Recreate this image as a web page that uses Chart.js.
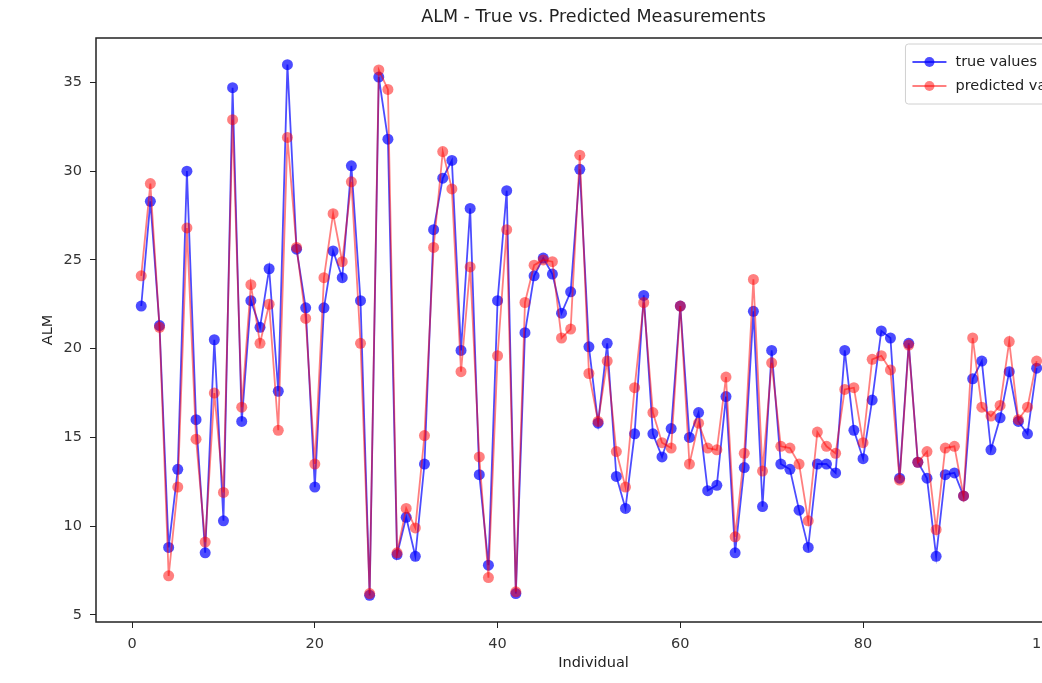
<!DOCTYPE html>
<html>
<head>
<meta charset="utf-8">
<title>ALM - True vs. Predicted Measurements</title>
<script src="https://cdn.jsdelivr.net/npm/chart.js@4.4.1/dist/chart.umd.min.js"></script>
<style>
    html, body { margin: 0; padding: 0; background: #fff; overflow: hidden; }
    #wrap { width: 1042px; height: 683px; overflow: hidden; }
</style>
</head>
<body>
<div id="wrap">
    <canvas id="ALM_Chart" width="1110" height="683"></canvas>
</div>
<script>
// ค่าที่อ่านจากภาพ (individual 1..99)
const trueValues = [
    22.4, 28.3, 21.3, 8.8, 13.2, 30.0, 16.0, 8.5, 20.5, 10.3,
    34.7, 15.9, 22.7, 21.2, 24.5, 17.6, 36.0, 25.6, 22.3, 12.2,
    22.3, 25.5, 24.0, 30.3, 22.7, 6.1, 35.3, 31.8, 8.4, 10.5,
    8.3, 13.5, 26.7, 29.6, 30.6, 19.9, 27.9, 12.9, 7.8, 22.7,
    28.9, 6.2, 20.9, 24.1, 25.1, 24.2, 22.0, 23.2, 30.1, 20.1,
    15.8, 20.3, 12.8, 11.0, 15.2, 23.0, 15.2, 13.9, 15.5, 22.4,
    15.0, 16.4, 12.0, 12.3, 17.3, 8.5, 13.3, 22.1, 11.1, 19.9,
    13.5, 13.2, 10.9, 8.8, 13.5, 13.5, 13.0, 19.9, 15.4, 13.8,
    17.1, 21.0, 20.6, 12.7, 20.3, 13.6, 12.7, 8.3, 12.9, 13.0,
    11.7, 18.3, 19.3, 14.3, 16.1, 18.7, 15.9, 15.2, 18.9
];
const predictedValues = [
    24.1, 29.3, 21.2, 7.2, 12.2, 26.8, 14.9, 9.1, 17.5, 11.9,
    32.9, 16.7, 23.6, 20.3, 22.5, 15.4, 31.9, 25.7, 21.7, 13.5,
    24.0, 27.6, 24.9, 29.4, 20.3, 6.2, 35.7, 34.6, 8.5, 11.0,
    9.9, 15.1, 25.7, 31.1, 29.0, 18.7, 24.6, 13.9, 7.1, 19.6,
    26.7, 6.3, 22.6, 24.7, 25.0, 24.9, 20.6, 21.1, 30.9, 18.6,
    15.9, 19.3, 14.2, 12.2, 17.8, 22.6, 16.4, 14.7, 14.4, 22.4,
    13.5, 15.8, 14.4, 14.3, 18.4, 9.4, 14.1, 23.9, 13.1, 19.2,
    14.5, 14.4, 13.5, 10.3, 15.3, 14.5, 14.1, 17.7, 17.8, 14.7,
    19.4, 19.6, 18.8, 12.6, 20.2, 13.6, 14.2, 9.8, 14.4, 14.5,
    11.7, 20.6, 16.7, 16.2, 16.8, 20.4, 16.0, 16.7, 19.3
];
const individuals = trueValues.map((v, i) => i + 1);
const xTicks = [0, 20, 40, 60, 80, 100];
const yTicks = [5, 10, 15, 20, 25, 30, 35];

const blueLine = 'rgba(0, 0, 255, 0.7)';
const redLine = 'rgba(255, 0, 0, 0.5)';
const fontFamily = '"DejaVu Sans", sans-serif';

// กรอบรอบพื้นที่กราฟ + legend ด้านในมุมขวาบน แบบ matplotlib
const framePlugin = {
    id: 'frameAndLegend',
    afterDraw(chart) {
        const ctx = chart.ctx;
        const a = chart.chartArea;
        ctx.save();
        ctx.strokeStyle = '#222';
        ctx.lineWidth = 1.5;
        ctx.strokeRect(a.left, a.top, a.right - a.left, a.bottom - a.top);

        const items = [
            { text: 'true values', color: blueLine },
            { text: 'predicted values', color: redLine }
        ];
        ctx.font = '14.5px ' + fontFamily;
        let textW = 0;
        items.forEach(it => { textW = Math.max(textW, ctx.measureText(it.text).width); });
        const pad = 7, handle = 34, gap = 9, rowH = 24;
        const boxW = pad + handle + gap + textW + pad;
        const boxH = 8 + rowH * items.length + 4;
        const right = a.right - 8;
        const left = right - boxW;
        const top = a.top + 6;

        ctx.fillStyle = 'rgba(255,255,255,0.8)';
        ctx.strokeStyle = '#d0d0d0';
        ctx.lineWidth = 1;
        ctx.beginPath();
        ctx.roundRect(left, top, boxW, boxH, 3);
        ctx.fill();
        ctx.stroke();

        items.forEach((it, i) => {
            const y = top + 18 + i * rowH;
            ctx.strokeStyle = it.color;
            ctx.lineWidth = 1.8;
            ctx.beginPath();
            ctx.moveTo(left + pad, y);
            ctx.lineTo(left + pad + handle, y);
            ctx.stroke();
            ctx.fillStyle = it.color;
            ctx.beginPath();
            ctx.arc(left + pad + handle / 2, y, 5, 0, Math.PI * 2);
            ctx.fill();
            ctx.fillStyle = '#222';
            ctx.textBaseline = 'middle';
            ctx.textAlign = 'left';
            ctx.fillText(it.text, left + pad + handle + gap, y);
        });
        ctx.restore();
    }
};

const ctx = document.getElementById('ALM_Chart').getContext('2d');
const ALMChartInstance = new Chart(ctx, {
    type: 'line',
    data: {
        datasets: [{
            label: 'true values',
            data: individuals.map((x, i) => ({ x: x, y: trueValues[i] })),
            borderColor: blueLine,
            backgroundColor: blueLine,
            borderWidth: 1.8,
            pointRadius: 5.5,
            pointBorderWidth: 0,
            tension: 0,
            order: 1
        }, {
            label: 'predicted values',
            data: individuals.map((x, i) => ({ x: x, y: predictedValues[i] })),
            borderColor: redLine,
            backgroundColor: redLine,
            borderWidth: 1.8,
            pointRadius: 5.5,
            pointBorderWidth: 0,
            tension: 0,
            order: 0
        }]
    },
    options: {
        responsive: false,
        animation: false,
        devicePixelRatio: 1,
        layout: { padding: { left: 0, right: 19, top: 0, bottom: 0 } },
        plugins: {
            legend: { display: false },
            tooltip: { enabled: false },
            title: {
                display: true,
                fullSize: false,
                text: 'ALM - True vs. Predicted Measurements',
                color: '#222',
                font: { family: fontFamily, size: 17.5, weight: 'normal' },
                padding: { top: 7, bottom: 10 }
            }
        },
        scales: {
            x: {
                type: 'linear',
                min: -3.95,
                max: 104.95,
                afterBuildTicks: scale => { scale.ticks = xTicks.map(v => ({ value: v })); },
                afterFit: scale => { scale.height = 61; },
                border: { display: false },
                grid: { display: true, drawOnChartArea: false, drawTicks: true, tickLength: 6, color: '#222' },
                ticks: {
                    color: '#333',
                    padding: 8,
                    maxRotation: 0,
                    font: { family: fontFamily, size: 14.5 },
                    callback: v => String(v)
                },
                title: {
                    display: true,
                    text: 'Individual',
                    color: '#222',
                    font: { family: fontFamily, size: 14.5 },
                    padding: { top: 0, bottom: 11 }
                }
            },
            y: {
                min: 4.6,
                max: 37.5,
                afterBuildTicks: scale => { scale.ticks = yTicks.map(v => ({ value: v })); },
                afterFit: scale => { scale.width = 96; },
                border: { display: false },
                grid: { display: true, drawOnChartArea: false, drawTicks: true, tickLength: 6, color: '#222' },
                ticks: {
                    color: '#333',
                    padding: 8,
                    font: { family: fontFamily, size: 14.5 },
                    callback: v => String(v)
                },
                title: {
                    display: true,
                    text: 'ALM',
                    color: '#222',
                    font: { family: fontFamily, size: 14.5 },
                    padding: { top: 40, bottom: 0 }
                }
            }
        }
    },
    plugins: [framePlugin]
});
</script>
</body>
</html>
